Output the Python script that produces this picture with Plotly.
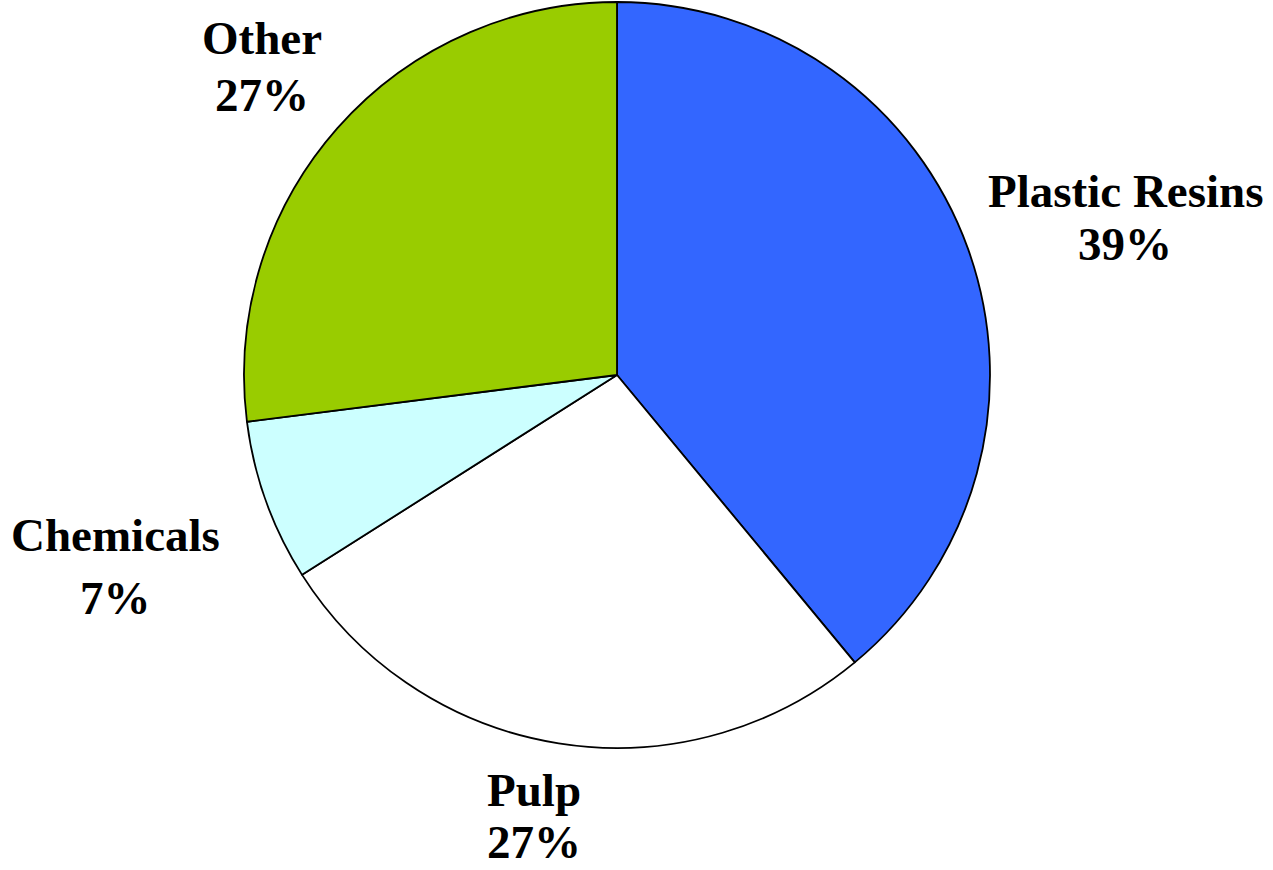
import plotly.graph_objects as go

# Share of purchases by category
categories = ["Plastic Resins", "Pulp", "Chemicals", "Other"]
shares = [39, 27, 7, 27]
colors = ["#3366FF", "#FFFFFF", "#CCFFFF", "#99CC00"]

W, H = 1273, 870

fig = go.Figure(
    go.Pie(
        labels=categories,
        values=shares,
        sort=False,
        direction="clockwise",
        rotation=0,
        marker=dict(colors=colors, line=dict(color="#000000", width=1.8)),
        textinfo="none",
        hoverinfo="label+percent",
        domain=dict(x=[(617 - 374) / W, (617 + 374) / W], y=[(870 - 748) / H, (870 - 2) / H]),
        showlegend=False,
    )
)

# Outside labels: name on the first line, share on the second
label_pos = {
    "Plastic Resins": (1125, 191, 244),
    "Pulp": (534, 790, 842),
    "Chemicals": (115, 535, 598),
    "Other": (262, 38, 95),
}
font = dict(family="Liberation Serif, Times New Roman, serif", size=47, color="#000000")
for name, val in zip(categories, shares):
    x, y1, y2 = label_pos[name]
    for txt, y in ((f"<b>{name}</b>", y1), (f"<b>{val}%</b>", y2)):
        fig.add_annotation(
            text=txt, x=x / W, y=1 - y / H, xref="paper", yref="paper",
            xanchor="center", yanchor="middle", showarrow=False, font=font,
        )

fig.update_layout(
    width=W, height=H,
    margin=dict(l=0, r=0, t=0, b=0),
    paper_bgcolor="#FFFFFF",
    plot_bgcolor="#FFFFFF",
)

fig.write_html("out.html")
